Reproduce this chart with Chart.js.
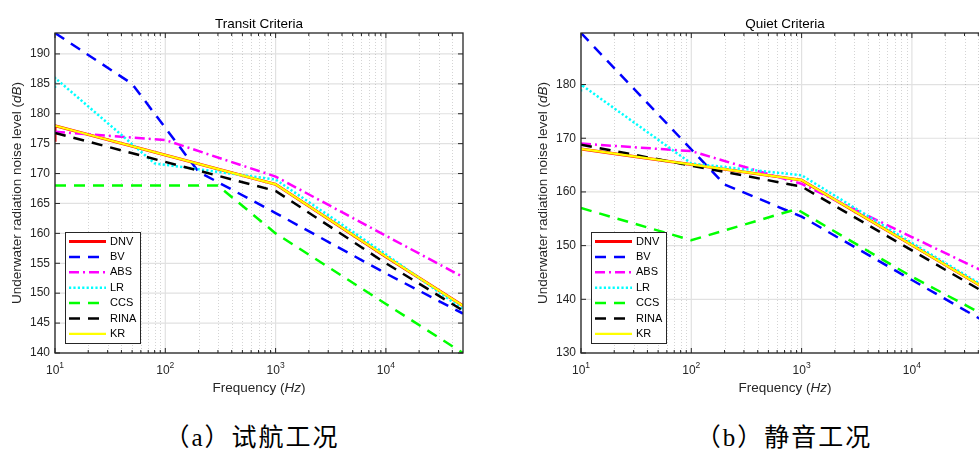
<!DOCTYPE html>
<html>
<head>
<meta charset="utf-8">
<script src="https://cdn.jsdelivr.net/npm/chart.js@4.4.1/dist/chart.umd.min.js"></script>
<style>
    html, body { margin: 0; padding: 0; background: #fff; }
    body { width: 979px; height: 455px; overflow: hidden; position: relative; }
    .painel { position: absolute; top: 0; width: 490px; height: 400px; }
    #painelTransit { left: 0; }
    #painelQuiet { left: 526px; }
    .legenda {
        position: absolute; top: 425px; line-height: 26px;
        font-size: 25px; font-family: "Liberation Serif", "Noto Sans CJK SC", serif;
        letter-spacing: 2px; color: #000; white-space: nowrap;
        transform: translateX(-50%);
    }
</style>
</head>
<body>
<div class="painel" id="painelTransit"><canvas id="chartTransit" width="490" height="400"></canvas></div>
<div class="painel" id="painelQuiet"><canvas id="chartQuiet" width="490" height="400"></canvas></div>
<div class="legenda" style="left:252px">（a）试航工况</div>
<div class="legenda" style="left:784px">（b）静音工况</div>

<script>
// Nomes das normas (ordem da legenda)
const seriesNames = ['DNV', 'BV', 'ABS', 'LR', 'CCS', 'RINA', 'KR'];

// Transit Criteria - frequencia (Hz) e nivel (dB)
const dnvTransitHz = [10, 10, 1000, 10000, 50000];
const dnvTransitDb = [175.3, 178, 168.2, 156.1, 147.9];
const bvTransitHz = [10, 50, 200, 1000, 10000, 50000];
const bvTransitDb = [193.5, 185, 170.3, 163.4, 153.3, 146.6];
const absTransitHz = [10, 100, 1000, 10000, 50000];
const absTransitDb = [177, 175.6, 169.5, 159.6, 152.7];
const lrTransitHz = [10, 10, 80, 1000, 10000, 50000];
const lrTransitDb = [184.3, 186, 171.7, 169, 156.5, 147.3];
const ccsTransitHz = [10, 300, 1000, 10000, 50000];
const ccsTransitDb = [168, 168, 160, 148.2, 140];
const rinaTransitHz = [10, 1000, 10000, 50000];
const rinaTransitDb = [176.8, 167.1, 155, 147.1];
const krTransitHz = [10, 1000, 10000, 50000];
const krTransitDb = [178, 168.2, 156.1, 147.9];

// Quiet Criteria
const dnvQuietHz = [10, 1000, 10000, 50000];
const dnvQuietDb = [168, 162.2, 150.1, 141.6];
const bvQuietHz = [10, 200, 1000, 10000, 50000];
const bvQuietDb = [189.6, 161.4, 155.4, 143.6, 135.4];
const absQuietHz = [10, 100, 1000, 10000, 50000];
const absQuietDb = [169, 167.6, 161.5, 151.6, 144.7];
const lrQuietHz = [10, 10, 100, 1000, 10000, 50000];
const lrQuietDb = [178.7, 180, 165.3, 163.1, 150.5, 141.9];
const ccsQuietHz = [10, 100, 900, 10000, 50000];
const ccsQuietDb = [157, 151, 156.8, 144.2, 136.6];
const rinaQuietHz = [10, 1000, 10000, 50000];
const rinaQuietDb = [168.8, 161, 149.1, 140.8];
const krQuietHz = [10, 10, 1000, 10000, 50000];
const krQuietDb = [166.6, 168, 162.2, 150.1, 141.6];

// Ticks dos eixos
const xTickExps = [1, 2, 3, 4];
const yTicksTransit = [140, 145, 150, 155, 160, 165, 170, 175, 180, 185, 190];
const yTicksQuiet = [130, 140, 150, 160, 170, 180];

const fonte = '"Liberation Sans", Arial, Helvetica, sans-serif';
const corEixo = '#262626';

// Estilo de cada linha (estilo MATLAB)
const estilos = {
    DNV:  { cor: '#ff0000', largura: 3,   traco: [] },
    BV:   { cor: '#0000ff', largura: 2.5, traco: [11, 8] },
    ABS:  { cor: '#ff00ff', largura: 2.5, traco: [10, 4, 2, 4] },
    LR:   { cor: '#00ffff', largura: 2.5, traco: [2.2, 2.2] },
    CCS:  { cor: '#00ff00', largura: 2.5, traco: [11, 8] },
    RINA: { cor: '#000000', largura: 2.5, traco: [11, 8] },
    KR:   { cor: '#ffff00', largura: 2.2, traco: [] }
};

function montarDatasets(listaHz, listaDb) {
    return seriesNames.map((nome, i) => ({
        label: nome,
        data: listaHz[i].map((f, k) => ({ x: f, y: listaDb[i][k] })),
        borderColor: estilos[nome].cor,
        borderWidth: estilos[nome].largura,
        borderDash: estilos[nome].traco,
        pointRadius: 0,
        fill: false,
        tension: 0,
        order: seriesNames.length - i
    }));
}

function menoresX(min, max) {
    const lista = [];
    for (let n = Math.floor(Math.log10(min)); n <= Math.ceil(Math.log10(max)); n++) {
        for (let m = 2; m <= 9; m++) {
            const v = m * Math.pow(10, n);
            if (v > min && v < max) lista.push(v);
        }
    }
    return lista;
}

function linha(ctx, x1, y1, x2, y2) {
    ctx.beginPath();
    ctx.moveTo(x1, y1);
    ctx.lineTo(x2, y2);
    ctx.stroke();
}

function criarPluginEixos(titulo, yTicks) {
    return {
        id: 'eixosMatlab',
        beforeDatasetsDraw(chart) {
            const { ctx, chartArea: a, scales: { x, y } } = chart;
            ctx.save();
            ctx.strokeStyle = '#e1e1e1';
            ctx.lineWidth = 1.2;
            yTicks.forEach(v => {
                const py = y.getPixelForValue(v);
                linha(ctx, a.left, py, a.right, py);
            });
            xTickExps.forEach(e => {
                const px = x.getPixelForValue(Math.pow(10, e));
                linha(ctx, px, a.top, px, a.bottom);
            });
            // grade menor pontilhada
            ctx.strokeStyle = 'rgba(38,38,38,0.2)';
            ctx.lineWidth = 1;
            ctx.setLineDash([1, 2]);
            menoresX(x.min, x.max).forEach(v => {
                const px = Math.round(x.getPixelForValue(v)) + 0.5;
                linha(ctx, px, a.top, px, a.bottom);
            });
            ctx.restore();
        },
        afterDatasetsDraw(chart) {
            const { ctx, chartArea: a, scales: { x, y } } = chart;
            ctx.save();
            ctx.strokeStyle = corEixo;
            ctx.lineWidth = 1;

            // ticks para dentro, nos quatro lados
            xTickExps.forEach(e => {
                const px = x.getPixelForValue(Math.pow(10, e));
                linha(ctx, px, a.bottom, px, a.bottom - 5);
                linha(ctx, px, a.top, px, a.top + 5);
            });
            menoresX(x.min, x.max).forEach(v => {
                const px = x.getPixelForValue(v);
                linha(ctx, px, a.bottom, px, a.bottom - 3);
                linha(ctx, px, a.top, px, a.top + 3);
            });
            yTicks.forEach(v => {
                const py = y.getPixelForValue(v);
                linha(ctx, a.left, py, a.left + 5, py);
                linha(ctx, a.right, py, a.right - 5, py);
            });

            // caixa
            ctx.lineWidth = 1.3;
            ctx.strokeRect(a.left, a.top, a.right - a.left, a.bottom - a.top);

            // labels do eixo y
            ctx.fillStyle = corEixo;
            ctx.font = '12px ' + fonte;
            ctx.textAlign = 'right';
            ctx.textBaseline = 'middle';
            yTicks.forEach(v => {
                ctx.fillText(String(v), a.left - 5, y.getPixelForValue(v));
            });

            // labels do eixo x (10 com expoente)
            ctx.textBaseline = 'alphabetic';
            ctx.textAlign = 'left';
            xTickExps.forEach(e => {
                const px = x.getPixelForValue(Math.pow(10, e));
                ctx.font = '12px ' + fonte;
                const wBase = ctx.measureText('10').width;
                ctx.font = '8.5px ' + fonte;
                const wExp = ctx.measureText(String(e)).width;
                const inicio = px - (wBase + wExp) / 2;
                ctx.font = '12px ' + fonte;
                ctx.fillText('10', inicio, a.bottom + 21);
                ctx.font = '8.5px ' + fonte;
                ctx.fillText(String(e), inicio + wBase, a.bottom + 14.5);
            });

            // titulo dos eixos (com partes em italico)
            const partesX = [['Frequency (', ''], ['Hz', 'italic '], [')', '']];
            desenharPartes(ctx, partesX, (a.left + a.right) / 2, a.bottom + 38.5);

            ctx.save();
            ctx.translate(17, (a.top + a.bottom) / 2);
            ctx.rotate(-Math.PI / 2);
            ctx.textBaseline = 'middle';
            const partesY = [['Underwater radiation noise level (', ''], ['dB', 'italic '], [')', '']];
            desenharPartes(ctx, partesY, 0, 0);
            ctx.restore();

            // titulo
            ctx.fillStyle = '#000';
            ctx.font = '13.5px ' + fonte;
            ctx.textAlign = 'center';
            ctx.textBaseline = 'alphabetic';
            ctx.fillText(titulo, (a.left + a.right) / 2, 28);

            // legenda dentro do grafico
            const lx = a.left + 10, ly = 232, lw = 75, lh = 111;
            ctx.fillStyle = '#fff';
            ctx.fillRect(lx, ly, lw, lh);
            ctx.strokeStyle = corEixo;
            ctx.lineWidth = 1;
            ctx.strokeRect(lx + 0.5, ly + 0.5, lw, lh);
            ctx.font = '11px ' + fonte;
            ctx.textAlign = 'left';
            ctx.textBaseline = 'middle';
            chart.data.datasets.forEach((ds, i) => {
                const yy = ly + 9.5 + i * 15.4;
                ctx.save();
                ctx.strokeStyle = ds.borderColor;
                ctx.lineWidth = ds.borderWidth;
                ctx.setLineDash(ds.borderDash);
                linha(ctx, lx + 4, yy, lx + 41, yy);
                ctx.restore();
                ctx.fillStyle = '#000';
                ctx.fillText(ds.label, lx + 45, yy);
            });
            ctx.restore();
        }
    };
}

function desenharPartes(ctx, partes, cx, cy) {
    ctx.fillStyle = corEixo;
    ctx.textAlign = 'left';
    let total = 0;
    partes.forEach(p => {
        ctx.font = p[1] + '13.5px ' + fonte;
        total += ctx.measureText(p[0]).width;
    });
    let px = cx - total / 2;
    partes.forEach(p => {
        ctx.font = p[1] + '13.5px ' + fonte;
        ctx.fillText(p[0], px, cy);
        px += ctx.measureText(p[0]).width;
    });
}

function criarGrafico(idCanvas, datasets, yMin, yMax, titulo, yTicks) {
    return new Chart(document.getElementById(idCanvas), {
        type: 'line',
        data: { datasets: datasets },
        options: {
            responsive: false,
            animation: false,
            layout: { padding: { left: 55, top: 33, right: 27, bottom: 47 } },
            plugins: {
                legend: { display: false },
                title: { display: false },
                tooltip: { enabled: false }
            },
            scales: {
                x: { type: 'logarithmic', min: 10, max: 50000, display: false },
                y: { type: 'linear', min: yMin, max: yMax, display: false }
            }
        },
        plugins: [criarPluginEixos(titulo, yTicks)]
    });
}

const transitSets = montarDatasets(
    [dnvTransitHz, bvTransitHz, absTransitHz, lrTransitHz, ccsTransitHz, rinaTransitHz, krTransitHz],
    [dnvTransitDb, bvTransitDb, absTransitDb, lrTransitDb, ccsTransitDb, rinaTransitDb, krTransitDb]
);
const quietSets = montarDatasets(
    [dnvQuietHz, bvQuietHz, absQuietHz, lrQuietHz, ccsQuietHz, rinaQuietHz, krQuietHz],
    [dnvQuietDb, bvQuietDb, absQuietDb, lrQuietDb, ccsQuietDb, rinaQuietDb, krQuietDb]
);

criarGrafico('chartTransit', transitSets, 140, 193.5, 'Transit Criteria', yTicksTransit);
criarGrafico('chartQuiet', quietSets, 130, 189.6, 'Quiet Criteria', yTicksQuiet);
</script>
</body>
</html>
